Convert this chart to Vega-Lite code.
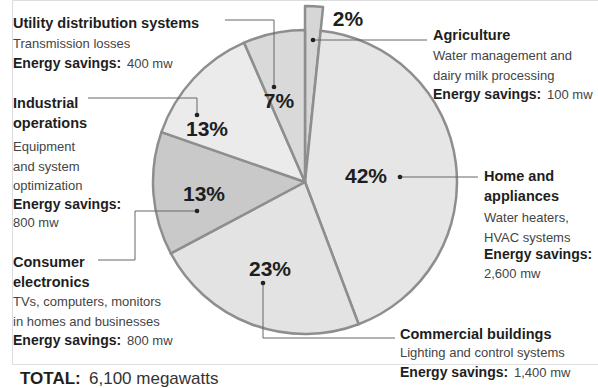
{
  "$schema": "https://vega.github.io/schema/vega-lite/v6.json",
  "width": 586,
  "height": 364,
  "autosize": {"type": "none"},
  "padding": {"left": 12, "top": 0, "right": 0, "bottom": 24},
  "background": "white",
  "params": [
    {"name": "P", "value": {
      "Agriculture": {"r": 176, "tx": 421, "ty": 40, "dy": 60, "sy": 99, "vx": 535, "vy": 99, "px": 336, "py": 20, "L": [[301, 40], [415, 40], [415, 40], [415, 40]]},
      "Home and appliances": {"r": 152, "tx": 472, "ty": 181, "dy": 222, "sy": 259, "vx": 472, "vy": 278, "px": 354, "py": 177, "L": [[388, 177], [466, 177], [466, 177], [466, 177]]},
      "Commercial buildings": {"r": 152, "tx": 388, "ty": 339, "dy": 357, "sy": 377, "vx": 502, "vy": 377, "px": 258, "py": 270, "L": [[251, 283], [251, 338], [383, 338], [383, 338]]},
      "Consumer electronics": {"r": 152, "tx": 1, "ty": 267, "dy": 306, "sy": 345, "vx": 115, "vy": 345, "px": 192, "py": 195, "L": [[185, 211], [123, 211], [123, 260], [86, 260]]},
      "Industrial operations": {"r": 152, "tx": 1, "ty": 108, "dy": 151, "sy": 209, "vx": 1, "vy": 227, "px": 195, "py": 130, "L": [[185, 115], [185, 98], [76, 98], [76, 98]]},
      "Utility distribution systems": {"r": 152, "tx": 1, "ty": 28, "dy": 48, "sy": 68, "vx": 115, "vy": 68, "px": 267, "py": 102, "L": [[262, 87], [262, 20], [213, 20], [213, 20]]}
    }}
  ],
  "data": {"values": [
    {"cat": "Agriculture", "mw": 100, "order": 1, "pct": "2%", "title": "Agriculture", "desc": "Water management and\ndairy milk processing", "sav": "100 mw"},
    {"cat": "Home and appliances", "mw": 2600, "order": 2, "pct": "42%", "title": "Home and\nappliances", "desc": "Water heaters,\nHVAC systems", "sav": "2,600 mw"},
    {"cat": "Commercial buildings", "mw": 1400, "order": 3, "pct": "23%", "title": "Commercial buildings", "desc": "Lighting and control systems", "sav": "1,400 mw"},
    {"cat": "Consumer electronics", "mw": 800, "order": 4, "pct": "13%", "title": "Consumer\nelectronics", "desc": "TVs, computers, monitors\nin homes and businesses", "sav": "800 mw"},
    {"cat": "Industrial operations", "mw": 800, "order": 5, "pct": "13%", "title": "Industrial\noperations", "desc": "Equipment\nand system\noptimization", "sav": "800 mw"},
    {"cat": "Utility distribution systems", "mw": 400, "order": 6, "pct": "7%", "title": "Utility distribution systems", "desc": "Transmission losses", "sav": "400 mw"}
  ]},
  "layer": [
    {
      "mark": {"type": "arc", "outerRadius": {"expr": "P[datum.cat].r"}, "stroke": "#8e8e8e", "strokeWidth": 2.5, "strokeJoin": "round"},
      "encoding": {
        "theta": {"field": "mw", "type": "quantitative", "stack": true},
        "order": {"field": "order", "type": "quantitative"},
        "color": {"field": "cat", "type": "nominal", "legend": null,
          "scale": {"domain": ["Agriculture", "Home and appliances", "Commercial buildings", "Consumer electronics", "Industrial operations", "Utility distribution systems"],
                    "range": ["#d6d6d6", "#e6e6e6", "#e3e3e3", "#c9c9c9", "#ebebeb", "#d9d9d9"]}}
      }
    },
    {
      "mark": {"type": "rule", "stroke": "#666", "strokeWidth": 1},
      "encoding": {
        "x": {"value": {"expr": "P[datum.cat].L[0][0]"}}, "y": {"value": {"expr": "P[datum.cat].L[0][1]"}},
        "x2": {"value": {"expr": "P[datum.cat].L[1][0]"}}, "y2": {"value": {"expr": "P[datum.cat].L[1][1]"}}
      }
    },
    {
      "mark": {"type": "rule", "stroke": "#666", "strokeWidth": 1},
      "encoding": {
        "x": {"value": {"expr": "P[datum.cat].L[1][0]"}}, "y": {"value": {"expr": "P[datum.cat].L[1][1]"}},
        "x2": {"value": {"expr": "P[datum.cat].L[2][0]"}}, "y2": {"value": {"expr": "P[datum.cat].L[2][1]"}}
      }
    },
    {
      "mark": {"type": "rule", "stroke": "#666", "strokeWidth": 1},
      "encoding": {
        "x": {"value": {"expr": "P[datum.cat].L[2][0]"}}, "y": {"value": {"expr": "P[datum.cat].L[2][1]"}},
        "x2": {"value": {"expr": "P[datum.cat].L[3][0]"}}, "y2": {"value": {"expr": "P[datum.cat].L[3][1]"}}
      }
    },
    {
      "mark": {"type": "point", "filled": true, "color": "#222", "size": 22, "opacity": 1,
        "x": {"expr": "P[datum.cat].L[0][0]"}, "y": {"expr": "P[datum.cat].L[0][1]"}}
    },
    {
      "mark": {"type": "text", "font": "Liberation Sans", "fontWeight": "bold", "fontSize": 21, "color": "#1e1e1e",
        "align": "center", "baseline": "middle",
        "x": {"expr": "P[datum.cat].px"}, "y": {"expr": "P[datum.cat].py"}},
      "encoding": {"text": {"field": "pct", "type": "nominal"}}
    },
    {
      "mark": {"type": "text", "font": "Liberation Sans", "fontWeight": "bold", "fontSize": 14.5, "color": "#1e1e1e",
        "align": "left", "baseline": "alphabetic", "lineBreak": "\n", "lineHeight": 20,
        "x": {"expr": "P[datum.cat].tx"}, "y": {"expr": "P[datum.cat].ty"}},
      "encoding": {"text": {"field": "title", "type": "nominal"}}
    },
    {
      "mark": {"type": "text", "font": "Liberation Sans", "fontSize": 13, "color": "#444",
        "align": "left", "baseline": "alphabetic", "lineBreak": "\n", "lineHeight": 19.5,
        "x": {"expr": "P[datum.cat].tx"}, "y": {"expr": "P[datum.cat].dy"}},
      "encoding": {"text": {"field": "desc", "type": "nominal"}}
    },
    {
      "mark": {"type": "text", "font": "Liberation Sans", "fontWeight": "bold", "fontSize": 14, "color": "#1e1e1e",
        "align": "left", "baseline": "alphabetic",
        "x": {"expr": "P[datum.cat].tx"}, "y": {"expr": "P[datum.cat].sy"}},
      "encoding": {"text": {"value": "Energy savings:"}}
    },
    {
      "mark": {"type": "text", "font": "Liberation Sans", "fontSize": 13, "color": "#444",
        "align": "left", "baseline": "alphabetic",
        "x": {"expr": "P[datum.cat].vx"}, "y": {"expr": "P[datum.cat].vy"}},
      "encoding": {"text": {"field": "sav", "type": "nominal"}}
    },
    {
      "transform": [
        {"aggregate": [{"op": "sum", "field": "mw", "as": "total"}]},
        {"calculate": "format(datum.total, ',') + ' megawatts'", "as": "totalLabel"}
      ],
      "layer": [
        {
          "mark": {"type": "text", "font": "Liberation Sans", "fontWeight": "bold", "fontSize": 17, "color": "#1e1e1e",
            "align": "left", "baseline": "alphabetic", "x": 8, "y": 384},
          "encoding": {"text": {"value": "TOTAL:"}}
        },
        {
          "mark": {"type": "text", "font": "Liberation Sans", "fontSize": 17, "color": "#333",
            "align": "left", "baseline": "alphabetic", "x": 77, "y": 384},
          "encoding": {"text": {"field": "totalLabel", "type": "nominal"}}
        }
      ]
    }
  ]
}
